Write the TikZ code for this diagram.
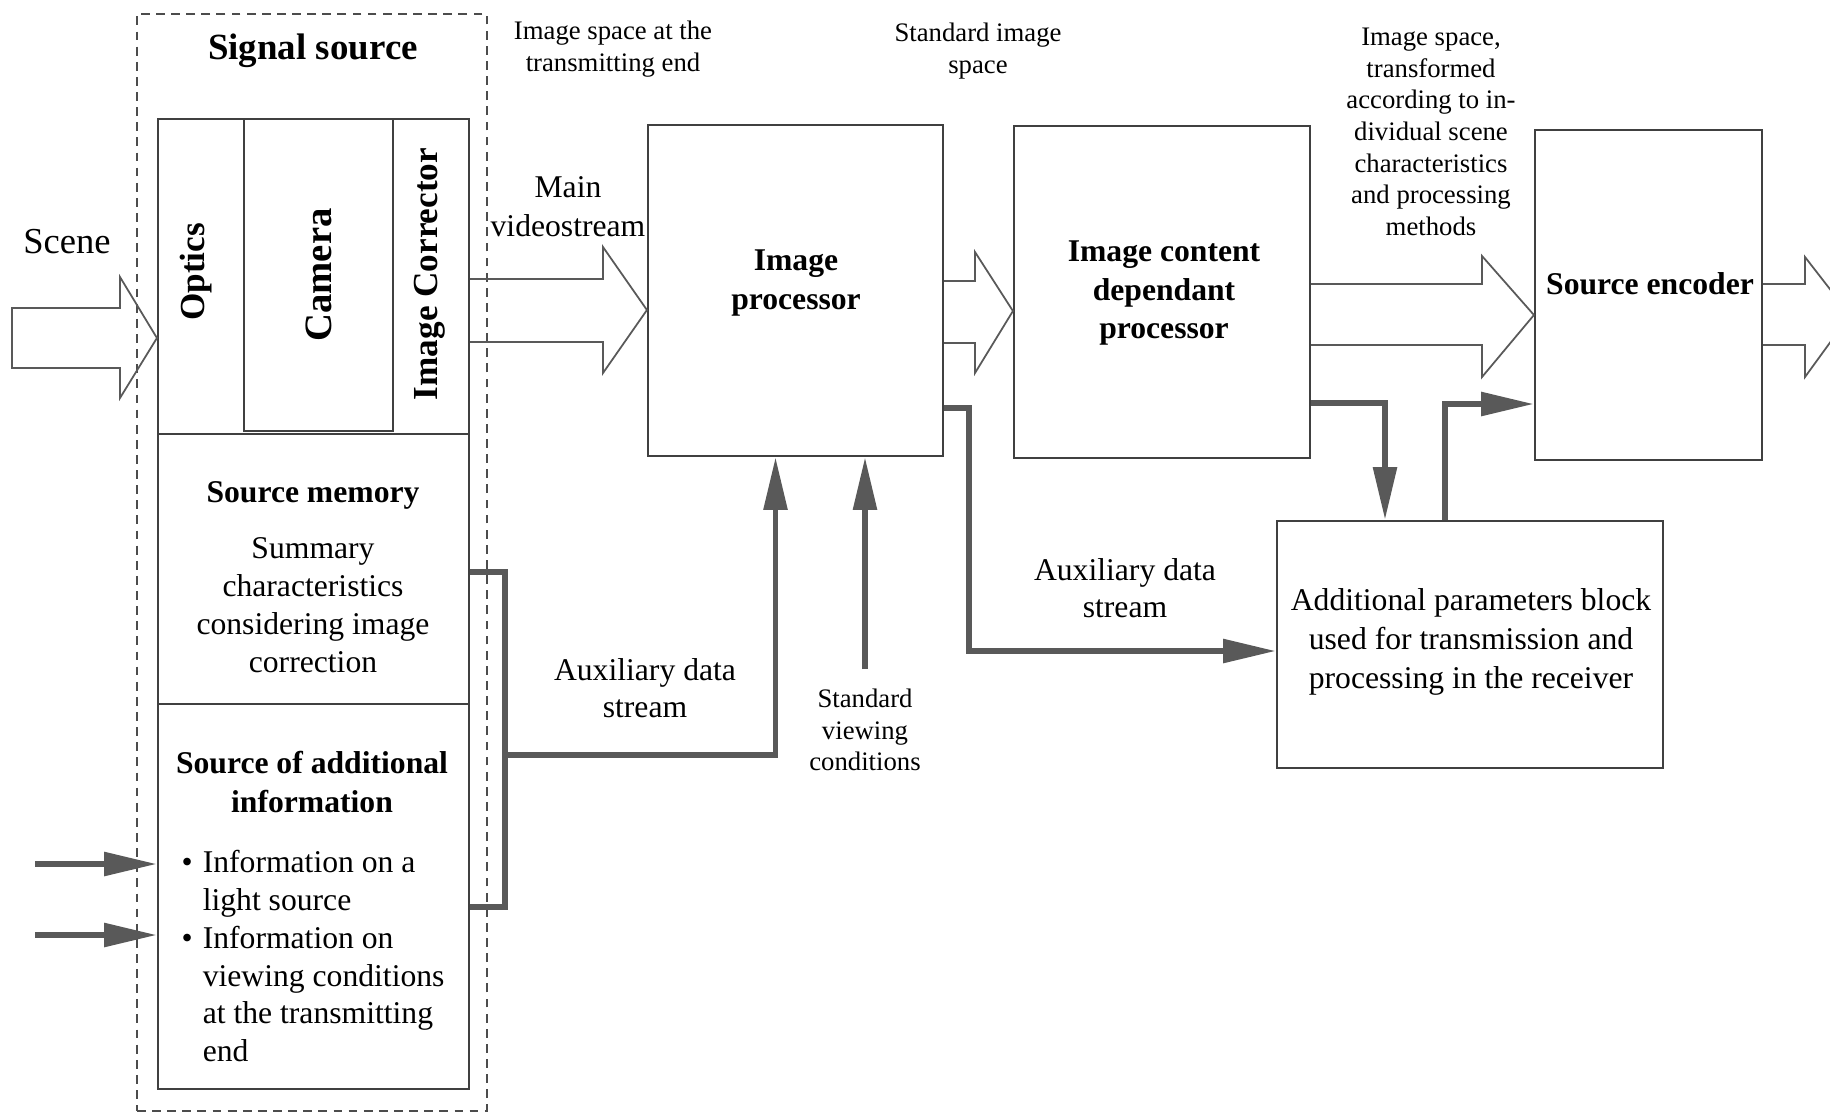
\documentclass[tikz,border=0pt]{standalone}
\usepackage{fontspec}
\setmainfont{Liberation Serif}
\usetikzlibrary{arrows.meta,fit,calc}

\tikzset{
	box/.style={draw=black!75, line width=0.6pt, inner sep=0pt},
	srcframe/.style={draw=black!70, line width=0.5pt, dash pattern=on 2.5pt off 1.8pt, inner sep=0pt},
	fatarrow/.style={draw=black!65, line width=0.5pt},
	datalink/.style={draw=black!65, line width=1.7pt},
	dataarrow/.style={datalink, -{Triangle[length=15pt,width=6.5pt]}},
	txt/.style={align=center, font=\fontsize{9}{10.8}\selectfont},
	note/.style={align=center, font=\fontsize{7.6}{9}\selectfont},
	hd/.style={align=center, font=\fontsize{9}{11}\selectfont\bfseries},
	vlabel/.style={rotate=90, font=\fontsize{10}{12}\selectfont\bfseries}
}

\begin{document}
\begin{tikzpicture}[x=0.01cm, y=-0.01cm]
	\useasboundingbox (0,0) rectangle (1830,1114);
	\clip (0,0) rectangle (1830,1114);
	
	% signal source
	\node[srcframe, fit={(137,14) (487,1111)}] (sigsrc) {};
	\node[font=\fontsize{10.5}{12}\selectfont\bfseries] (sigtitle) at (313,51) {Signal source};
	
	\node[box, fit={(158,119) (469,434)}] (capture) {};
	\node[box, fit={(244,119) (393,431)}] (camera) {};
	\node[box, fit={(158,434) (469,704)}] (memory) {};
	\node[box, fit={(158,704) (469,1089)}] (addinfo) {};
	
	\node[vlabel] (optics) at (196,272) {Optics};
	\node[vlabel, font=\fontsize{11}{13}\selectfont\bfseries] (camlbl) at (319,275) {Camera};
	\node[vlabel] (corrector) at (430,274) {Image Corrector};
	
	\node[hd] (memtitle) at (313,495) {Source memory};
	\node[txt] (memtext) at (313,605) {Summary\\characteristics\\considering image\\correction};
	\node[hd] (infotitle) at (312,782) {Source of additional\\information};
	\node[txt, align=left, anchor=west, inner sep=0pt] (infolist) at (181,956)
		{\makebox[6pt][l]{\textbullet}Information on a\\
		 \hspace*{6pt}light source\\
		 \makebox[6pt][l]{\textbullet}Information on\\
		 \hspace*{6pt}viewing conditions\\
		 \hspace*{6pt}at the transmitting\\
		 \hspace*{6pt}end};
	
	% processing chain
	\node[box, fit={(648,125) (943,456)}] (improc) {};
	\node[box, fit={(1014,126) (1310,458)}] (content) {};
	\node[box, fit={(1535,130) (1762,460)}] (encoder) {};
	\node[box, fit={(1277,521) (1663,768)}] (addpar) {};
	
	\node[hd] (improclbl) at (796,283) {Image\\processor};
	\node[hd] (contentlbl) at (1164,293) {Image content\\dependant\\processor};
	\node[hd] (encoderlbl) at (1650,284) {Source encoder};
	\node[txt, font=\fontsize{9}{11}\selectfont] (addparlbl) at (1471,642) {Additional parameters block\\used for transmission and\\processing in the receiver};
	
	% texts
	\node[font=\fontsize{10.4}{12}\selectfont] (scene) at (67,242) {Scene};
	\node[note] (txspace) at (613,49) {Image space at the\\transmitting end};
	\node[note] (stdspace) at (978,51) {Standard image\\space};
	\node[note] (trspace) at (1431,132) {Image space,\\transformed\\according to in-\\dividual scene\\characteristics\\and processing\\methods};
	\node[txt, font=\fontsize{9}{11.1}\selectfont] (mainvs) at (568,207) {Main\\videostream};
	\node[txt, font=\fontsize{9}{10.5}\selectfont] (auxleft) at (645,688) {Auxiliary data\\stream};
	\node[txt, font=\fontsize{9}{10.5}\selectfont] (auxright) at (1125,588) {Auxiliary data\\stream};
	\node[note] (stdview) at (865,730) {Standard\\viewing\\conditions};
	
	% wide hollow arrows
	\draw[fatarrow] (12,308) -- (120,308) -- (120,277) -- (capture.west |- 0,338) -- (120,398) -- (120,368) -- (12,368) -- cycle;
	\draw[fatarrow] (capture.east |- 0,279) -- (603,279) -- (603,247) -- (improc.west |- 0,310) -- (603,373) -- (603,342) -- (capture.east |- 0,342);
	\draw[fatarrow] (improc.east |- 0,281) -- (975,281) -- (975,252) -- (content.west |- 0,311) -- (975,373) -- (975,343) -- (improc.east |- 0,343);
	\draw[fatarrow] (content.east |- 0,284) -- (1482,284) -- (1482,256) -- (encoder.west |- 0,315) -- (1482,377) -- (1482,345) -- (content.east |- 0,345);
	\draw[fatarrow] (encoder.east |- 0,284) -- (1805,284) -- (1805,257) -- (1850,315) -- (1805,377) -- (1805,345) -- (encoder.east |- 0,345);
	
	% auxiliary data paths
	\draw[datalink] (memory.east |- 0,572) -- (505,572) -- (505,907) -- (addinfo.east |- 0,907);
	\draw[dataarrow] (505,755) -| ($(improc.south)+(-20,0)$);
	\draw[dataarrow] (stdview.north |- 0,669) -- (stdview.north |- improc.south);
	\draw[dataarrow] (improc.east |- 0,408) -- (969,408) |- (addpar.west |- 0,651);
	\draw[dataarrow] (content.east |- 0,403) -| ($(addpar.north)+(-85,0)$);
	\draw[dataarrow] ($(addpar.north)+(-25,0)$) |- (encoder.west |- 0,404);
	
	\coordinate (in1) at (35,864);
	\coordinate (in2) at (35,935);
	\foreach \p in {in1,in2}{
		\draw[dataarrow] (\p) -- (addinfo.west |- \p);}
\end{tikzpicture}
\end{document}
